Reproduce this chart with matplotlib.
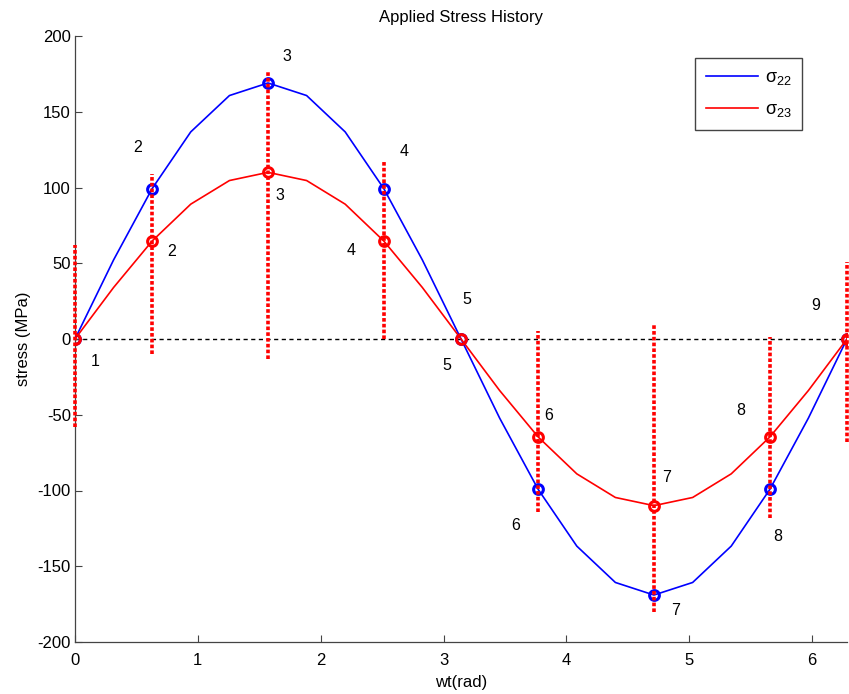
import matplotlib
matplotlib.use("Agg")
import matplotlib.pyplot as plt

plt.rcParams['font.family'] = ['Liberation Sans', 'DejaVu Sans']
plt.rcParams['mathtext.fontset'] = 'custom'
plt.rcParams['mathtext.rm'] = 'Liberation Sans'
plt.rcParams['mathtext.it'] = 'Liberation Sans'
plt.rcParams['axes.unicode_minus'] = False

# ---- data ----
wt = [0.0, 0.314, 0.628, 0.942, 1.257, 1.571, 1.885, 2.199, 2.513, 2.827, 3.142,
      3.456, 3.770, 4.084, 4.398, 4.712, 5.027, 5.341, 5.655, 5.969, 6.283]
sigma22 = [0.0, 52.2, 99.3, 136.7, 160.7, 169.0, 160.7, 136.7, 99.3, 52.2, 0.0,
           -52.2, -99.3, -136.7, -160.7, -169.0, -160.7, -136.7, -99.3, -52.2, 0.0]
sigma23 = [0.0, 34.0, 64.7, 89.0, 104.6, 110.0, 104.6, 89.0, 64.7, 34.0, 0.0,
           -34.0, -64.7, -89.0, -104.6, -110.0, -104.6, -89.0, -64.7, -34.0, 0.0]

pt_x = [0.0, 0.628, 1.571, 2.513, 3.142, 3.770, 4.712, 5.655, 6.283]
pt_s22 = [0.0, 99.3, 169.0, 99.3, 0.0, -99.3, -169.0, -99.3, 0.0]
pt_s23 = [0.0, 64.7, 110.0, 64.7, 0.0, -64.7, -110.0, -64.7, 0.0]

# vertical range bars
bar_x = [0.0, 0.628, 1.571, 2.513, 3.770, 4.712, 5.655, 6.283]
bar_top = [62, 109, 176, 118, 5, 9, 1, 51]
bar_bot = [-58, -10, -13, 0, -114, -180, -118, -68]

# point number labels
lab_s22_text = ['1', '2', '3', '4', '5', '6', '7', '8', '9']
lab_s22_x = [0.163, 0.513, 1.728, 2.68, 3.19, 3.586, 4.89, 5.72, 6.03]
lab_s22_y = [-15, 126.6, 186.7, 124, 26.4, -123.4, -179.4, -130.6, 22.4]
lab_s23_text = ['2', '3', '4', '5', '6', '7', '8']
lab_s23_x = [0.79, 1.67, 2.25, 3.03, 3.855, 4.817, 5.42]
lab_s23_y = [58, 95, 58.7, -17.8, -50.8, -91.7, -47.5]

# ---- figure ----
fig = plt.figure(figsize=(8.49, 6.94), dpi=100)
L, R, B, T = 75, 847, 642, 36
ax = fig.add_axes([L / 849, 1 - B / 694, (R - L) / 849, (B - T) / 694])

ax.axhline(0, color='black', linestyle=(0, (3, 2.5)), linewidth=1.0, zorder=1)

l1, = ax.plot(wt, sigma22, color='#0000ff', linewidth=1.2, label=r'$\sigma_{22}$', zorder=3)
l2, = ax.plot(wt, sigma23, color='#ff0000', linewidth=1.2, label=r'$\sigma_{23}$', zorder=3)
ax.plot(pt_x, pt_s22, linestyle='none', marker='o', markersize=7, markerfacecolor='none',
        markeredgecolor='#0000ff', markeredgewidth=2.2, zorder=4)
ax.plot(pt_x, pt_s23, linestyle='none', marker='o', markersize=7, markerfacecolor='none',
        markeredgecolor='#ff0000', markeredgewidth=2.2, zorder=4)

ax.vlines(bar_x, bar_bot, bar_top, colors='#ff0000', linestyles=(0, (1, 0.6)),
          linewidth=2.6, zorder=5, clip_on=False)

for t, x, y in zip(lab_s22_text, lab_s22_x, lab_s22_y):
    ax.text(x, y, t, fontsize=11.5, ha='center', va='center', color='black')
for t, x, y in zip(lab_s23_text, lab_s23_x, lab_s23_y):
    ax.text(x, y, t, fontsize=11.5, ha='center', va='center', color='black')

ax.set_xlim(0, 6.2832)
ax.set_ylim(-200, 200)
ax.set_xticks([0, 1, 2, 3, 4, 5, 6])
ax.set_yticks([-200, -150, -100, -50, 0, 50, 100, 150, 200])
ax.tick_params(direction='in', length=5, width=0.8, labelsize=12, color='#444444')
ax.tick_params(axis='x', pad=8)
ax.tick_params(axis='y', pad=3)
for s in ['top', 'right']:
    ax.spines[s].set_visible(False)
for s in ['left', 'bottom']:
    ax.spines[s].set_color('#444444')
    ax.spines[s].set_linewidth(0.9)

ax.set_title('Applied Stress History', fontsize=12, pad=10)
ax.set_xlabel('wt(rad)', fontsize=12, labelpad=5)
ax.set_ylabel('stress (MPa)', fontsize=12, labelpad=5)

leg = ax.legend(handles=[l1, l2], loc='upper right', bbox_to_anchor=(802 / 849, 1 - 58 / 694),
                bbox_transform=fig.transFigure, borderaxespad=0, fancybox=False,
                edgecolor='#444444', fontsize=13, handlelength=2.9, handletextpad=0.35,
                borderpad=0.6, labelspacing=0.8, framealpha=1)
leg.get_frame().set_linewidth(1.0)

fig.savefig('out.png', dpi=100)
